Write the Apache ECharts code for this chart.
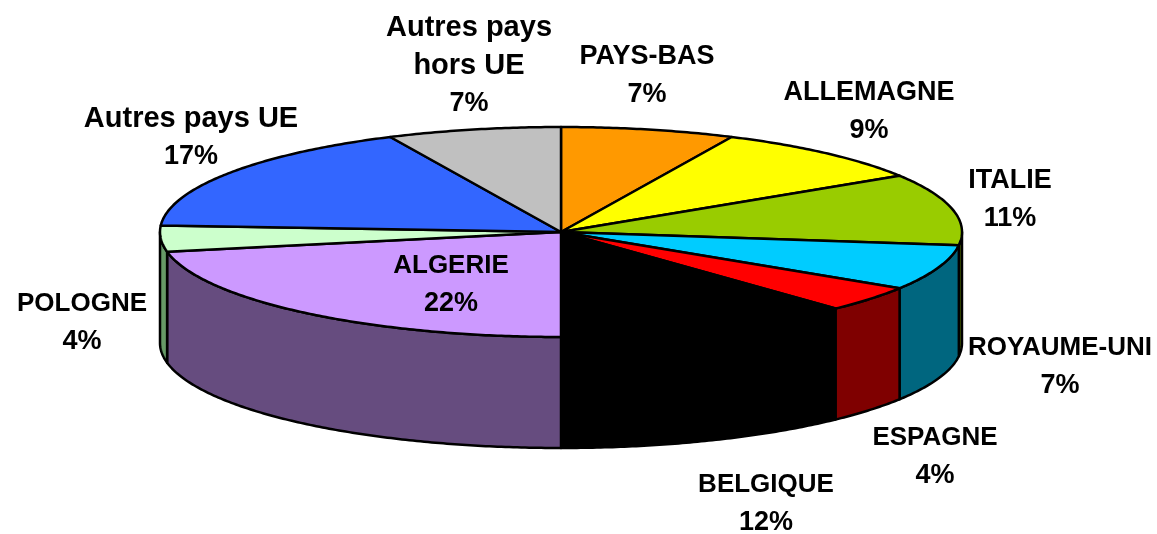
<!DOCTYPE html>
<html>
<head>
<meta charset="utf-8">
<title>Repartition par pays</title>
<style>
html, body { margin: 0; padding: 0; background: #fff; }
#main { width: 1157px; height: 534px; }
</style>
<script src="https://cdn.jsdelivr.net/npm/echarts@6/dist/echarts.min.js"></script>
</head>
<body>
<div id="main"></div>
<script>
// donnees, dans le sens horaire depuis le haut du camembert
var categories = ['PAYS-BAS', 'ALLEMAGNE', 'ITALIE', 'ROYAUME-UNI', 'ESPAGNE', 'BELGIQUE', 'ALGERIE', 'POLOGNE', 'Autres pays UE', 'Autres pays\nhors UE'];
var values = [7, 9, 11, 7, 4, 12, 22, 4, 17, 7];
var topColors = ['#FF9900', '#FFFF00', '#99CC00', '#00CCFF', '#FF0000', '#000000', '#CC99FF', '#CCFFCC', '#3366FF', '#C0C0C0'];
var wallColors = ['#7F4C00', '#7F7F00', '#4C6600', '#00667F', '#7F0000', '#000000', '#664C7F', '#669966', '#19337F', '#606060'];
// centre de chaque etiquette [x, y] et taille du nom
var labelCenters = [[647, 76], [869, 112], [1010, 200], [1060, 367], [935, 457], [766, 504], [451, 285], [82, 323], [191, 138], [469, 66]];
var nameSizes = [27, 27, 27, 26, 26, 26, 26, 26, 29, 29];

// geometrie du camembert
var cx = 561, cy = 232, rx = 401, ry = 105, depth = 111;
var total = values.reduce(function (a, b) { return a + b; }, 0);

function startAngle(i) {
    var sum = 0;
    for (var k = 0; k < i; k++) sum += values[k];
    return sum / total * Math.PI * 2;
}

function rim(a, dy) {
    return [cx + rx * Math.sin(a), cy - ry * Math.cos(a) + (dy || 0)];
}

function arc(a0, a1, dy) {
    var pts = [];
    var n = Math.max(2, Math.ceil((a1 - a0) / 0.01));
    for (var k = 0; k <= n; k++) pts.push(rim(a0 + (a1 - a0) * k / n, dy));
    return pts;
}

function renderWall(params, api) {
    var i = params.dataIndex;
    // seule la moitie avant est visible
    var a0 = Math.max(startAngle(i), Math.PI / 2);
    var a1 = Math.min(startAngle(i) + api.value(0) / total * Math.PI * 2, Math.PI * 1.5);
    if (a1 <= a0) return null;
    var pts = arc(a0, a1, 0).concat(arc(a0, a1, depth).reverse());
    return {
        type: 'polygon',
        shape: { points: pts },
        style: { fill: wallColors[i], stroke: '#000', lineWidth: 2.5, lineJoin: 'round' }
    };
}

function renderTop(params, api) {
    var i = params.dataIndex;
    var a0 = startAngle(i);
    var a1 = a0 + api.value(0) / total * Math.PI * 2;
    return {
        type: 'polygon',
        shape: { points: [[cx, cy]].concat(arc(a0, a1, 0)) },
        style: { fill: topColors[i], stroke: '#000', lineWidth: 2.5, lineJoin: 'round' }
    };
}

function renderLabel(params, api) {
    var i = params.dataIndex;
    var lines = categories[i].split('\n').map(function (s) { return '{n|' + s + '}'; });
    lines.push('{p|' + api.value(0) + '%}');
    var fontFamily = '"Liberation Sans", Arial, sans-serif';
    return {
        type: 'text',
        x: labelCenters[i][0],
        y: labelCenters[i][1],
        style: {
            text: lines.join('\n'),
            align: 'center',
            verticalAlign: 'middle',
            rich: {
                n: { fill: '#000', fontFamily: fontFamily, fontWeight: 'bold', fontSize: nameSizes[i], lineHeight: 38, align: 'center' },
                p: { fill: '#000', fontFamily: fontFamily, fontWeight: 'bold', fontSize: 27, lineHeight: 38, align: 'center' }
            }
        }
    };
}

var myChart = echarts.init(document.getElementById('main'), null, { renderer: 'canvas' });
myChart.setOption({
    backgroundColor: '#ffffff',
    animation: false,
    series: [
        { type: 'custom', coordinateSystem: 'none', z: 1, silent: true, renderItem: renderWall, data: values },
        { type: 'custom', coordinateSystem: 'none', z: 2, silent: true, renderItem: renderTop, data: values },
        { type: 'custom', coordinateSystem: 'none', z: 3, silent: true, renderItem: renderLabel, data: values }
    ]
});
</script>
</body>
</html>
